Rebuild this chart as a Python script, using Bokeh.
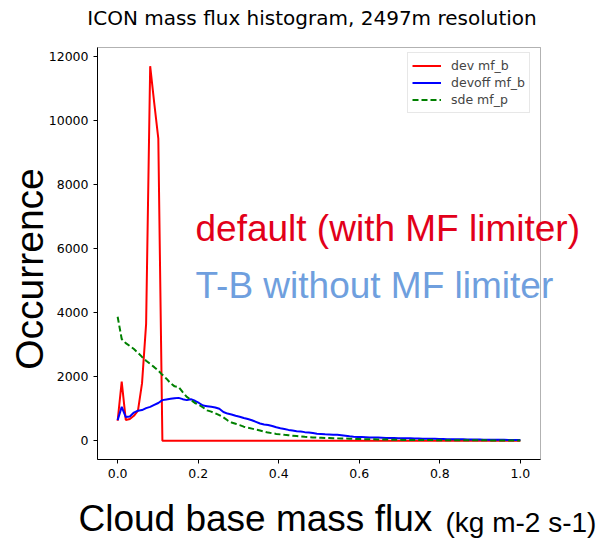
import math
import numpy as np
from bokeh.plotting import figure
from bokeh.models import (Range1d, FixedTicker, PrintfTickFormatter, Label,
                          Legend, LegendItem, BoxAnnotation)
from bokeh.embed import file_html
from bokeh.resources import INLINE

W, H = 607, 540

# histogram bins of cloud base mass flux (kg m-2 s-1)
mass_flux = np.linspace(0.0, 1.0, 100)

# occurrence counts per bin
dev_mf_b = [
    625, 1850, 650, 680, 780, 940, 1800, 3650, 11700, 10550,
    9440, 0, 0, 0, 0, 0, 0, 0, 0, 0,
    0, 0, 0, 0, 0, 0, 0, 0, 0, 0,
    0, 0, 0, 0, 0, 0, 0, 0, 0, 0,
    0, 0, 0, 0, 0, 0, 0, 0, 0, 0,
    0, 0, 0, 0, 0, 0, 0, 0, 0, 0,
    0, 0, 0, 0, 0, 0, 0, 0, 0, 0,
    0, 0, 0, 0, 0, 0, 0, 0, 0, 0,
    0, 0, 0, 0, 0, 0, 0, 0, 0, 0,
    0, 0, 0, 0, 0, 0, 0, 0, 0, 0,
]
devoff_mf_b = [
    645, 1060, 740, 760, 880, 940, 960, 1020, 1060, 1120,
    1180, 1270, 1290, 1310, 1330, 1340, 1300, 1270, 1300, 1250,
    1180, 1100, 1080, 1060, 1040, 1000, 900, 850, 820, 780,
    750, 710, 680, 640, 590, 540, 510, 490, 460, 420,
    390, 370, 340, 320, 300, 290, 270, 260, 240, 220,
    210, 200, 195, 190, 185, 175, 160, 140, 125, 120,
    115, 110, 105, 100, 100, 95, 90, 85, 85, 80,
    80, 75, 75, 70, 70, 65, 65, 60, 60, 55,
    55, 50, 50, 48, 45, 45, 42, 40, 40, 38,
    35, 35, 33, 32, 30, 30, 28, 28, 25, 25,
]
sde_mf_p = [
    3875, 3180, 3050, 2960, 2865, 2750, 2620, 2500, 2400, 2300,
    2190, 2060, 1940, 1800, 1700, 1680, 1520, 1370, 1280, 1180,
    1120, 1040, 950, 910, 860, 800, 730, 640, 570, 530,
    490, 440, 410, 380, 350, 320, 290, 255, 235, 215,
    200, 185, 172, 160, 148, 135, 122, 112, 105, 100,
    95, 90, 85, 80, 75, 73, 68, 65, 60, 55,
    52, 50, 48, 45, 42, 40, 38, 35, 32, 30,
    28, 27, 26, 25, 24, 23, 22, 21, 20, 20,
    19, 18, 18, 17, 16, 16, 15, 15, 14, 14,
    13, 13, 12, 12, 11, 11, 10, 10, 10, 10,
]

x_ticks = [0.0, 0.2, 0.4, 0.6, 0.8, 1.0]
y_ticks = [0, 2000, 4000, 6000, 8000, 10000, 12000]

title_text = "ICON mass flux histogram, 2497m resolution"
y_title = "Occurrence"
x_title = "Cloud base mass flux"
x_units = "(kg m-2 s-1)"
note_default = "default (with MF limiter)"
note_tb = "T-B without MF limiter"

# axes box in data units (5% margins) and its pixel placement on the page
X0, X1 = -0.05, 1.05
Y0, Y1 = -585.0, 12285.0
BOX_L, BOX_R, BOX_T, BOX_B = 97, 540, 47, 459

# the plotting frame spans the whole page so that the large annotations
# can sit anywhere; ranges are widened so the axes box lands where wanted
sx = (X1 - X0) / (BOX_R - BOX_L)
sy = (Y1 - Y0) / (BOX_B - BOX_T)
x_range = Range1d(X0 - BOX_L * sx, X1 + (W - BOX_R) * sx)
y_range = Range1d(Y0 - (H - BOX_B) * sy, Y1 + BOX_T * sy)

p = figure(width=W, height=H, output_backend="svg", toolbar_location=None,
           x_range=x_range, y_range=y_range)
p.min_border = 0
p.min_border_left = 0
p.min_border_right = 0
p.min_border_top = 0
p.min_border_bottom = 0
p.background_fill_color = "white"
p.border_fill_color = "white"
p.outline_line_color = None
p.xgrid.visible = False
p.ygrid.visible = False

for ax in (p.xaxis[0], p.yaxis[0]):
    ax.axis_line_color = "black"
    ax.axis_line_width = 1
    ax.major_tick_in = 0
    ax.major_tick_out = 4
    ax.minor_tick_line_color = None
    ax.major_label_text_font = "DejaVu Sans"
    ax.major_label_text_font_size = "12.5px"
    ax.major_label_text_color = "black"
    ax.major_label_standoff = 5

p.xaxis.ticker = FixedTicker(ticks=x_ticks)
p.xaxis.formatter = PrintfTickFormatter(format="%.1f")
p.xaxis.bounds = (X0, X1)
p.xaxis.fixed_location = Y0
p.yaxis.ticker = FixedTicker(ticks=y_ticks)
p.yaxis.formatter = PrintfTickFormatter(format="%d")
p.yaxis.bounds = (Y0, Y1)
p.yaxis.fixed_location = X0

# axes box outline
p.add_layout(BoxAnnotation(left=X0, right=X1, bottom=Y0, top=Y1,
                           fill_color=None, line_color="black",
                           line_width=1))

r_dev = p.line(mass_flux, dev_mf_b, line_color="#ff0000", line_width=2)
r_off = p.line(mass_flux, devoff_mf_b, line_color="#0000ff", line_width=2)
r_sde = p.line(mass_flux, sde_mf_p, line_color="#008000", line_width=2,
               line_dash="6 3")

legend = Legend(items=[
    LegendItem(label="dev mf_b", renderers=[r_dev]),
    LegendItem(label="devoff mf_b", renderers=[r_off]),
    LegendItem(label="sde mf_p", renderers=[r_sde]),
], location="top_left")
legend.margin = 0
legend.padding = 4
legend.spacing = 0
legend.glyph_width = 29
legend.glyph_height = 17
legend.label_height = 17
legend.label_standoff = 10
legend.label_text_font = "DejaVu Sans"
legend.label_text_font_size = "12.5px"
legend.border_line_color = "#d0d0d0"
legend.border_line_width = 1
legend.background_fill_alpha = 0.8
legend.location = (407, H - 113)
p.add_layout(legend)

# baseline correction for the svg text anchor, as a fraction of font size
BASE_SHIFT = 0.36


def screen_label(text, x, base, size, color="black", font="Liberation Sans",
                 align="left", vertical=False):
    px = float(size.rstrip("px"))
    if vertical:
        x = x - BASE_SHIFT * px
        angle = math.pi / 2
    else:
        base = base - BASE_SHIFT * px
        angle = 0.0
    lab = Label(x=x, y=H - base, x_units="screen", y_units="screen",
                text=text, text_font=font, text_font_size=size,
                text_color=color, text_align=align,
                text_baseline="alphabetic", angle=angle)
    p.add_layout(lab)


screen_label(title_text, 311.5, 25, "20px", font="DejaVu Sans",
             align="center")
screen_label(y_title, 43, 268.5, "39px", align="center", vertical=True)
screen_label(note_default, 195, 241.7, "37px", color="#e2001a")
screen_label(note_tb, 195, 298, "37px", color="#6f9fde")
screen_label(x_title, 78, 531.7, "37px")
screen_label(x_units, 445, 531.7, "28px")

open("out.html", "w").write(file_html(p, INLINE))
